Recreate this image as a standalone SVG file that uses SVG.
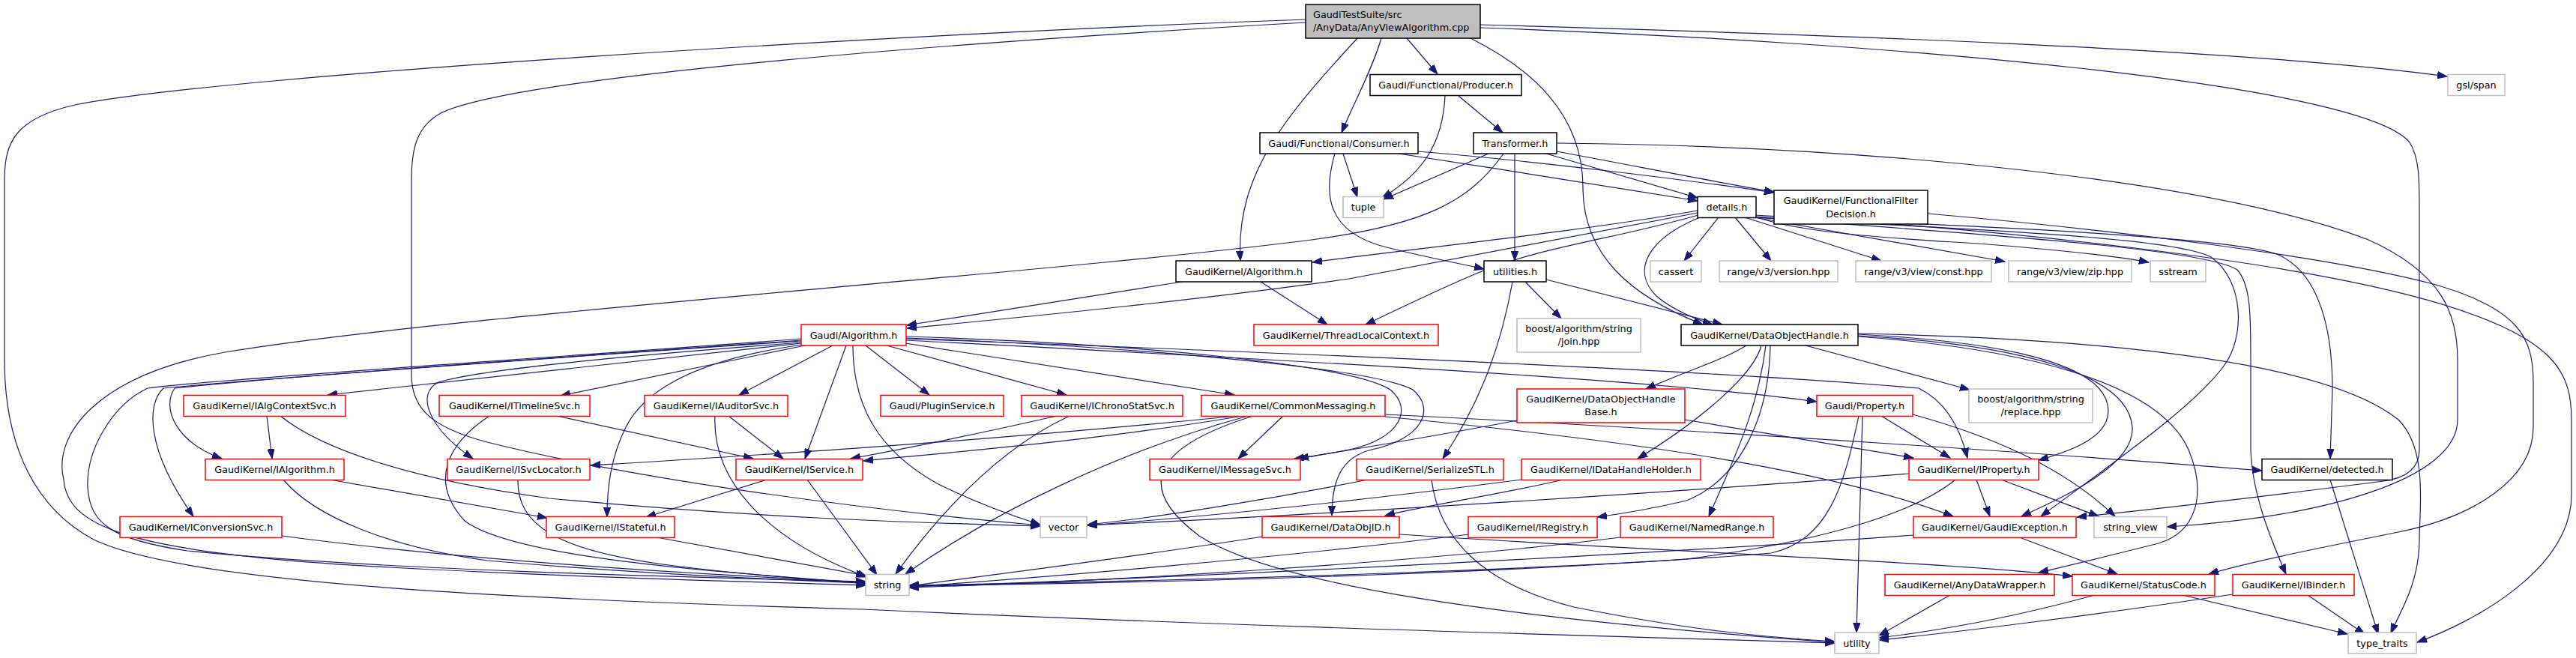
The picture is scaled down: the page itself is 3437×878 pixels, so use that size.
<svg xmlns="http://www.w3.org/2000/svg" width="3437" height="878" viewBox="0 0 3437 878">
<defs>
<style>
.e{fill:none;stroke:#191970;stroke-width:1.2;marker-end:url(#a)}
rect{fill:#fff;stroke:#000;stroke-width:1.5}
.r rect{stroke:#ff0000}
.g rect{stroke:#bfbfbf}
.root rect{fill:#bfbfbf;stroke:#000}
text{font-family:"DejaVu Sans","Liberation Sans",sans-serif;font-size:12.8px;fill:#000;text-anchor:middle}
.root text{text-anchor:start}
</style>
<marker id="a" markerWidth="14" markerHeight="10" refX="13" refY="5" orient="auto" markerUnits="userSpaceOnUse"><path d="M0,0.3 L13,5 L0,9.7 z" fill="#191970" stroke="#191970" stroke-width="1"/></marker>
</defs>
<rect x="0" y="0" width="3437" height="878" style="fill:#fff;stroke:none"/>
<g id="edges">
<path class="e" d="M1877,51 L1918,99"/>
<path class="e" d="M1843,51 C1830,95 1805,140 1790,177"/>
<path class="e" d="M1811,51 C1720,150 1648,230 1655,348"/>
<path class="e" d="M1962,51 C2040,90 2112,150 2112,250 C2112,340 2175,395 2272,433"/>
<path class="e" d="M1975,33 C2400,45 3000,65 3265,102"/>
<path class="e" d="M1975,37 C2500,55 3150,110 3215,190 C3228,210 3228,240 3228,280 L3228,600 C3228,625 3210,638 3180,642 C3000,665 2850,682 2771,690"/>
<path class="e" d="M1742,30 C1300,55 700,100 590,150 C555,168 549,200 549,240 L549,500 C549,545 575,570 650,590 C850,640 1150,680 1388,701"/>
<path class="e" d="M1742,26 C1200,45 300,100 100,140 C20,158 6,190 6,240 L6,480 C6,600 50,680 125,720 C250,780 700,800 1150,813 C1700,838 2200,850 2448,858"/>
<path class="e" d="M1928,128 C1925,190 1900,230 1844,264"/>
<path class="e" d="M1946,128 L2005,177"/>
<path class="e" d="M1792,205 L1811,263"/>
<path class="e" d="M1781,205 C1765,260 1770,310 1850,330 C1910,345 1950,352 1980,359"/>
<path class="e" d="M1892,202 C2050,215 2250,240 2367,257"/>
<path class="e" d="M1866,205 C2000,225 2150,250 2265,268"/>
<path class="e" d="M1986,205 L1846,266"/>
<path class="e" d="M2006,205 C1960,270 1900,300 1750,320 C1400,365 600,420 300,470 C130,500 70,580 85,640 C90,700 160,738 520,757 C800,772 1000,776 1155,781"/>
<path class="e" d="M2021,205 L2021,348"/>
<path class="e" d="M2063,205 L2265,264"/>
<path class="e" d="M2077,202 C2200,225 2300,245 2367,256"/>
<path class="e" d="M2077,191 C2500,195 2950,240 3160,320 C3260,365 3279,420 3279,480 L3279,560 C3279,640 3100,690 2891,703"/>
<path class="e" d="M2265,281 C2100,310 1900,330 1751,350"/>
<path class="e" d="M2265,284 C2100,315 1950,345 1800,372 C1600,400 1400,420 1210,438"/>
<path class="e" d="M2293,290 L2247,348"/>
<path class="e" d="M2315,290 L2363,348"/>
<path class="e" d="M2328,290 L2510,348"/>
<path class="e" d="M2335,289 L2675,349"/>
<path class="e" d="M2338,288 C2420,318 2600,320 2700,330 C2780,337 2830,343 2867,350"/>
<path class="e" d="M2268,290 C2200,318 2175,360 2210,395 C2230,412 2260,425 2285,433"/>
<path class="e" d="M2266,287 C2150,320 2050,330 1965,367 C1900,395 1850,420 1822,433"/>
<path class="e" d="M2340,287 C2600,300 3100,345 3300,420 C3410,460 3431,500 3431,560 L3431,660 C3431,760 3300,830 3225,857"/>
<path class="e" d="M2340,289 C2600,300 2980,315 3040,340 C3095,365 3112,440 3112,520 L3109,612"/>
<path class="e" d="M2341,290 C2600,305 2900,315 2950,343 C2995,375 2995,450 2968,487 C2930,540 2830,610 2723,689"/>
<path class="e" d="M2342,290 C2600,310 2940,330 2985,360 C3003,380 3003,420 3003,480 L3003,600 C3005,660 3030,720 3050,766"/>
<path class="e" d="M2572,285 C2800,305 3100,340 3250,380 C3360,412 3380,450 3380,510 L3380,570 C3380,640 3300,690 3200,710 C3100,730 3000,750 2947,766"/>
<path class="e" d="M2035,376 L2083,425"/>
<path class="e" d="M2063,373 C2150,395 2230,415 2298,433"/>
<path class="e" d="M2018,376 C2005,450 1980,530 1925,612"/>
<path class="e" d="M1577,376 L1210,434"/>
<path class="e" d="M1682,376 L1771,433"/>
<path class="e" d="M1069,452 C700,480 300,505 197,518 C150,540 115,600 117,650 C120,700 150,720 250,735 C500,760 900,770 1155,776"/>
<path class="e" d="M1069,454 C700,480 350,505 218,518 C195,540 195,600 258,689"/>
<path class="e" d="M1069,455 C700,480 350,505 233,518 C215,545 235,590 296,612"/>
<path class="e" d="M1069,458 L437,527"/>
<path class="e" d="M1074,461 L748,528"/>
<path class="e" d="M1069,457 C900,470 650,490 585,510 C555,525 570,570 631,612"/>
<path class="e" d="M1070,460 C930,480 860,520 835,570 C815,610 810,650 810,690"/>
<path class="e" d="M1111,461 L986,527"/>
<path class="e" d="M1129,461 L1074,612"/>
<path class="e" d="M1138,461 C1138,540 1170,600 1250,645 C1300,670 1340,685 1388,700"/>
<path class="e" d="M1155,461 L1240,527"/>
<path class="e" d="M1183,461 L1423,527"/>
<path class="e" d="M1208,458 L1647,527"/>
<path class="e" d="M1209,449 C1500,458 1800,485 1855,520 C1885,545 1870,585 1800,600 C1770,606 1750,609 1727,612"/>
<path class="e" d="M1209,451 C1500,462 1830,490 1885,520 C1915,545 1900,585 1830,600 C1790,610 1777,640 1777,688"/>
<path class="e" d="M1209,452 C1700,470 2300,495 2560,518 C2595,535 2615,570 2625,611"/>
<path class="e" d="M1209,454 C1700,480 2200,505 2424,536"/>
<path class="e" d="M356,555 L363,612"/>
<path class="e" d="M374,555 C430,600 550,640 733,665 C1000,690 1200,697 1388,702"/>
<path class="e" d="M653,555 C600,590 570,640 620,695 C680,740 900,760 1155,778"/>
<path class="e" d="M743,555 L1005,612"/>
<path class="e" d="M954,555 C950,640 1020,720 1157,770"/>
<path class="e" d="M972,555 L1045,612"/>
<path class="e" d="M378,640 C420,690 520,730 650,748 C850,765 1000,772 1155,778"/>
<path class="e" d="M440,640 L730,691"/>
<path class="e" d="M691,640 C690,700 740,735 900,755 C1000,768 1100,774 1155,779"/>
<path class="e" d="M376,715 C600,745 900,765 1155,777"/>
<path class="e" d="M876,717 L1155,768"/>
<path class="e" d="M1023,640 L862,690"/>
<path class="e" d="M1077,640 L1170,767"/>
<path class="e" d="M1410,555 C1300,580 1200,600 1135,612"/>
<path class="e" d="M1427,555 C1330,600 1250,690 1195,766"/>
<path class="e" d="M1650,555 C1300,590 1000,608 788,621"/>
<path class="e" d="M1658,555 C1450,590 1250,605 1152,615"/>
<path class="e" d="M1665,555 C1500,600 1330,680 1208,766"/>
<path class="e" d="M1672,555 C1560,590 1500,640 1600,715 C1700,780 2000,825 2448,857"/>
<path class="e" d="M1712,555 L1652,612"/>
<path class="e" d="M1848,553 C2300,575 2800,610 3018,628"/>
<path class="e" d="M1848,556 C2200,590 2450,630 2606,689"/>
<path class="e" d="M2024,561 C1900,585 1800,600 1733,612"/>
<path class="e" d="M2248,560 L2553,611"/>
<path class="e" d="M2510,555 L2602,611"/>
<path class="e" d="M2485,555 L2477,844"/>
<path class="e" d="M2480,555 C2460,650 2440,720 2363,738 C2100,760 1600,775 1213,781"/>
<path class="e" d="M2552,553 C2650,580 2750,620 2822,689"/>
<path class="e" d="M2637,640 L2655,689"/>
<path class="e" d="M2670,640 L2800,689"/>
<path class="e" d="M2547,632 C2200,660 1700,690 1451,701"/>
<path class="e" d="M2609,640 C2560,680 2450,720 2250,746 C1900,770 1500,778 1213,782"/>
<path class="e" d="M2553,714 C2200,740 1600,770 1213,783"/>
<path class="e" d="M2697,718 L2825,766"/>
<path class="e" d="M2602,794 L2507,848"/>
<path class="e" d="M2795,794 C2700,820 2600,840 2507,851"/>
<path class="e" d="M2912,794 L3132,846"/>
<path class="e" d="M2979,793 C2800,820 2600,845 2507,854"/>
<path class="e" d="M3079,794 L3155,846"/>
<path class="e" d="M3109,640 L3173,846"/>
<path class="e" d="M1825,640 C1700,665 1550,690 1451,700"/>
<path class="e" d="M1910,640 C1920,720 1980,780 2100,810 C2250,840 2350,850 2448,856"/>
<path class="e" d="M2030,640 C1800,670 1600,690 1451,701"/>
<path class="e" d="M2086,640 C2000,660 1900,675 1848,688"/>
<path class="e" d="M1685,716 C1500,745 1300,770 1213,782"/>
<path class="e" d="M1867,713 C2200,735 2600,750 2765,769"/>
<path class="e" d="M1960,713 C1700,745 1400,770 1213,783"/>
<path class="e" d="M2162,717 C1900,750 1500,775 1213,784"/>
<path class="e" d="M2330,461 C2300,480 2250,495 2196,519"/>
<path class="e" d="M2350,461 C2340,500 2270,560 2185,612"/>
<path class="e" d="M2356,461 C2345,550 2310,620 2280,689"/>
<path class="e" d="M2362,461 C2360,560 2320,640 2250,668 C2200,680 2160,686 2131,690"/>
<path class="e" d="M2409,461 L2628,520"/>
<path class="e" d="M2479,446 C2650,455 2800,480 2812,540 C2820,580 2770,600 2720,614"/>
<path class="e" d="M2479,448 C2700,460 2840,500 2845,570 C2848,620 2760,660 2697,689"/>
<path class="e" d="M2479,449 C2700,465 2880,510 2920,600 C2945,660 2930,710 2880,725 C2800,745 2760,755 2720,764"/>
<path class="e" d="M2479,445 C2800,452 3100,480 3200,560 C3240,600 3228,680 3228,720 C3228,780 3200,820 3190,845"/>
</g>
<g id="n_root" class="root"><rect x="1742" y="6" width="233" height="45"/><text x="1752" y="24">GaudiTestSuite/src</text><text x="1752" y="41">/AnyData/AnyViewAlgorithm.cpp</text></g>
<g id="n_producer"><rect x="1828" y="99.5" width="202" height="28"/><text x="1929" y="118">Gaudi/Functional/Producer.h</text></g>
<g id="n_gsl" class="g"><rect x="3266" y="99.5" width="76" height="28"/><text x="3304" y="118">gsl/span</text></g>
<g id="n_consumer"><rect x="1681" y="177" width="211" height="28"/><text x="1786.5" y="195.5">Gaudi/Functional/Consumer.h</text></g>
<g id="n_transformer"><rect x="1966" y="177" width="111" height="28"/><text x="2021.5" y="195.5">Transformer.h</text></g>
<g id="n_tuple" class="g"><rect x="1792" y="262.5" width="54" height="28"/><text x="1819" y="281">tuple</text></g>
<g id="n_details"><rect x="2265" y="262.5" width="78" height="28"/><text x="2304" y="281">details.h</text></g>
<g id="n_ffd"><rect x="2367" y="254" width="205" height="45"/><text x="2469.5" y="272.3">GaudiKernel/FunctionalFilter</text><text x="2469.5" y="289.6">Decision.h</text></g>
<g id="n_gkalg"><rect x="1569" y="348" width="181" height="28"/><text x="1659.5" y="366.5">GaudiKernel/Algorithm.h</text></g>
<g id="n_utilities"><rect x="1980" y="348" width="83" height="28"/><text x="2021.5" y="366.5">utilities.h</text></g>
<g id="n_cassert" class="g"><rect x="2202" y="348" width="68" height="28"/><text x="2236" y="366.5">cassert</text></g>
<g id="n_rver" class="g"><rect x="2294" y="348" width="158" height="28"/><text x="2373" y="366.5">range/v3/version.hpp</text></g>
<g id="n_rconst" class="g"><rect x="2476" y="348" width="181" height="28"/><text x="2566.5" y="366.5">range/v3/view/const.hpp</text></g>
<g id="n_rzip" class="g"><rect x="2680" y="348" width="164" height="28"/><text x="2762" y="366.5">range/v3/view/zip.hpp</text></g>
<g id="n_sstream" class="g"><rect x="2869" y="348" width="74" height="28"/><text x="2906" y="366.5">sstream</text></g>
<g id="n_galg" class="r"><rect x="1069" y="433" width="140" height="28"/><text x="1139" y="451.5">Gaudi/Algorithm.h</text></g>
<g id="n_tlc" class="r"><rect x="1673" y="433" width="246" height="28"/><text x="1796" y="451.5">GaudiKernel/ThreadLocalContext.h</text></g>
<g id="n_join" class="g"><rect x="2024" y="425" width="165" height="45"/><text x="2106.5" y="443">boost/algorithm/string</text><text x="2106.5" y="460.3">/join.hpp</text></g>
<g id="n_doh"><rect x="2243" y="433" width="236" height="28"/><text x="2361" y="451.5">GaudiKernel/DataObjectHandle.h</text></g>
<g id="n_ialgctx" class="r"><rect x="245" y="527.5" width="216" height="28"/><text x="353" y="546">GaudiKernel/IAlgContextSvc.h</text></g>
<g id="n_itimeline" class="r"><rect x="586" y="527.5" width="201" height="28"/><text x="686.5" y="546">GaudiKernel/ITimelineSvc.h</text></g>
<g id="n_iauditor" class="r"><rect x="860" y="527.5" width="191" height="28"/><text x="955.5" y="546">GaudiKernel/IAuditorSvc.h</text></g>
<g id="n_plugin" class="r"><rect x="1175" y="527.5" width="164" height="28"/><text x="1257" y="546">Gaudi/PluginService.h</text></g>
<g id="n_ichrono" class="r"><rect x="1363" y="527.5" width="215" height="28"/><text x="1470.5" y="546">GaudiKernel/IChronoStatSvc.h</text></g>
<g id="n_commsg" class="r"><rect x="1603" y="527.5" width="245" height="28"/><text x="1725.5" y="546">GaudiKernel/CommonMessaging.h</text></g>
<g id="n_dohbase" class="r"><rect x="2024" y="519" width="224" height="45"/><text x="2136" y="537">GaudiKernel/DataObjectHandle</text><text x="2136" y="554.3">Base.h</text></g>
<g id="n_gprop" class="r"><rect x="2424" y="527.5" width="128" height="28"/><text x="2488" y="546">Gaudi/Property.h</text></g>
<g id="n_replace" class="g"><rect x="2627" y="519" width="165" height="45"/><text x="2709.5" y="537">boost/algorithm/string</text><text x="2709.5" y="554.3">/replace.hpp</text></g>
<g id="n_ialgorithm" class="r"><rect x="274" y="612.5" width="185" height="28"/><text x="366.5" y="631">GaudiKernel/IAlgorithm.h</text></g>
<g id="n_isvcloc" class="r"><rect x="597" y="612.5" width="190" height="28"/><text x="692" y="631">GaudiKernel/ISvcLocator.h</text></g>
<g id="n_iservice" class="r"><rect x="982" y="612.5" width="169" height="28"/><text x="1066.5" y="631">GaudiKernel/IService.h</text></g>
<g id="n_imsgsvc" class="r"><rect x="1534" y="612.5" width="201" height="28"/><text x="1634.5" y="631">GaudiKernel/IMessageSvc.h</text></g>
<g id="n_serial" class="r"><rect x="1810" y="612.5" width="196" height="28"/><text x="1908" y="631">GaudiKernel/SerializeSTL.h</text></g>
<g id="n_idhh" class="r"><rect x="2030" y="612.5" width="239" height="28"/><text x="2149.5" y="631">GaudiKernel/IDataHandleHolder.h</text></g>
<g id="n_iprop" class="r"><rect x="2547" y="612.5" width="173" height="28"/><text x="2633.5" y="631">GaudiKernel/IProperty.h</text></g>
<g id="n_detected"><rect x="3018" y="612.5" width="174" height="28"/><text x="3105" y="631">GaudiKernel/detected.h</text></g>
<g id="n_iconv" class="r"><rect x="160" y="689.5" width="216" height="28"/><text x="268" y="708">GaudiKernel/IConversionSvc.h</text></g>
<g id="n_istateful" class="r"><rect x="729" y="689.5" width="171" height="28"/><text x="814.5" y="708">GaudiKernel/IStateful.h</text></g>
<g id="n_vector" class="g"><rect x="1388" y="689.5" width="62" height="28"/><text x="1419" y="708">vector</text></g>
<g id="n_dataobjid" class="r"><rect x="1684" y="689.5" width="183" height="28"/><text x="1775.5" y="708">GaudiKernel/DataObjID.h</text></g>
<g id="n_iregistry" class="r"><rect x="1959" y="689.5" width="172" height="28"/><text x="2045" y="708">GaudiKernel/IRegistry.h</text></g>
<g id="n_namedrange" class="r"><rect x="2162" y="689.5" width="204" height="28"/><text x="2264" y="708">GaudiKernel/NamedRange.h</text></g>
<g id="n_gexc" class="r"><rect x="2553" y="689.5" width="217" height="28"/><text x="2661.5" y="708">GaudiKernel/GaudiException.h</text></g>
<g id="n_strview" class="g"><rect x="2794" y="689.5" width="97" height="28"/><text x="2842.5" y="708">string_view</text></g>
<g id="n_string" class="g"><rect x="1155" y="766.5" width="58" height="28"/><text x="1184" y="785">string</text></g>
<g id="n_anydata" class="r"><rect x="2515" y="766.5" width="226" height="28"/><text x="2628" y="785">GaudiKernel/AnyDataWrapper.h</text></g>
<g id="n_statuscode" class="r"><rect x="2765" y="766.5" width="190" height="28"/><text x="2860" y="785">GaudiKernel/StatusCode.h</text></g>
<g id="n_ibinder" class="r"><rect x="2979" y="766.5" width="162" height="28"/><text x="3060" y="785">GaudiKernel/IBinder.h</text></g>
<g id="n_utility" class="g"><rect x="2448" y="844" width="59" height="28"/><text x="2477.5" y="862.5">utility</text></g>
<g id="n_typetraits" class="g"><rect x="3133" y="844" width="91" height="28"/><text x="3178.5" y="862.5">type_traits</text></g>
</svg>
